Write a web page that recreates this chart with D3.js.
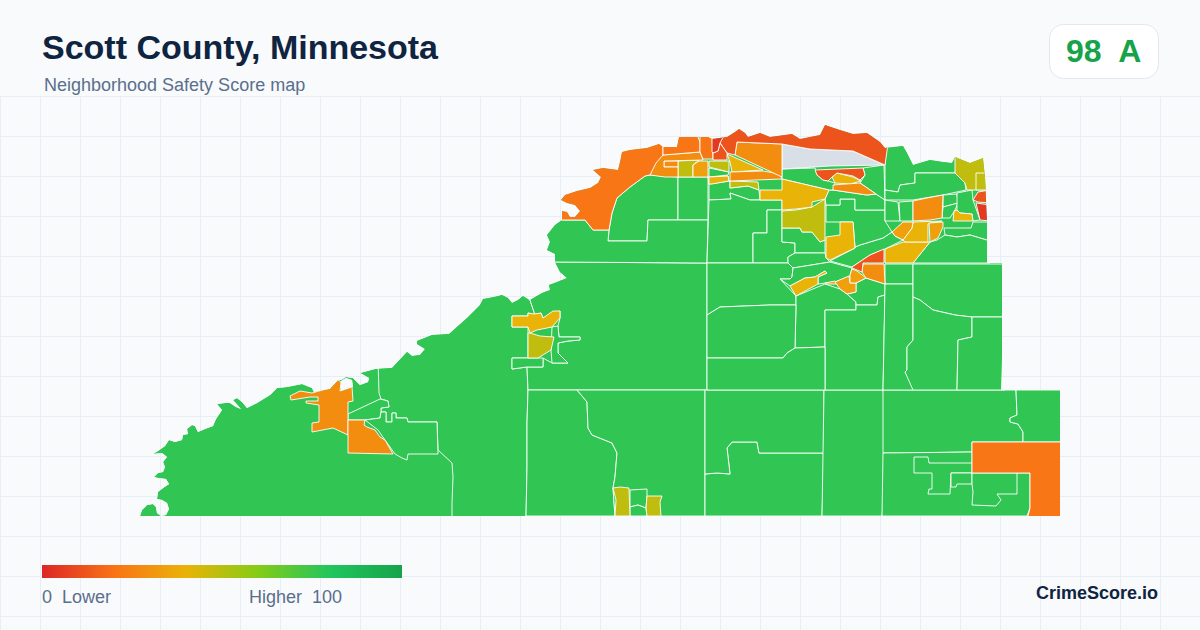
<!DOCTYPE html>
<html>
<head>
<meta charset="utf-8">
<script src="https://cdn.jsdelivr.net/npm/d3@7/dist/d3.min.js"></script>
<style>
html, body { margin: 0; padding: 0; background: #f8fafc; }
svg { display: block; font-family: "Liberation Sans", Arial, sans-serif; }
</style>
</head>
<body>
<script>
(function(){

//chart text
var titleText = "Scott County, Minnesota";
var subtitleText = "Neighborhood Safety Score map";
var badgeScore = 98;
var badgeGrade = "A";
var brandText = "CrimeScore.io";

//legend scale
var legendStops = [0, 20, 40, 60, 80, 100];
var legendColors = ["#dc2626", "#f97316", "#eab308", "#84cc16", "#22c55e", "#16a34a"];
var noDataColor = "#d9dfe6";

//county outline, second ring is the small lake
var countyRings = [
  [[140,516],[142,510],[147,505],[153,504],[156,507],[157,513],[161,516],[166,515],[169,509],[167,503],[162,500],[157,499],[158,492],[163,488],[169,484],[166,479],[158,478],[154,477],[158,473],[163,472],[165,467],[163,462],[167,457],[162,453],[153,454],[158,451],[165,446],[169,440],[175,442],[182,440],[183,435],[188,434],[187,429],[192,425],[195,426],[198,432],[205,429],[213,426],[216,419],[222,410],[217,404],[225,403],[230,403],[236,407],[241,409],[233,400],[237,398],[242,402],[247,408],[257,403],[270,395],[277,388],[287,387],[302,384],[312,388],[314,392],[330,389],[338,380],[341,380],[346,377],[353,378],[360,385],[368,382],[369,378],[360,373],[375,369],[392,368],[407,352],[412,356],[420,355],[425,349],[417,344],[417,341],[432,335],[449,334],[467,318],[480,305],[483,299],[494,297],[502,295],[508,298],[512,303],[518,300],[523,296],[530,300],[542,293],[550,290],[549,285],[557,282],[567,278],[560,272],[555,262],[555,254],[547,250],[550,242],[547,235],[555,225],[562,220],[562,211],[567,212],[570,217],[575,217],[580,211],[575,205],[567,203],[561,200],[565,195],[577,191],[590,188],[598,183],[601,177],[593,170],[603,168],[618,170],[620,162],[622,152],[630,150],[647,148],[659,144],[663,147],[677,147],[679,137],[693,137],[708,137],[712,139],[727,137],[735,132],[739,129],[745,133],[748,137],[760,133],[770,137],[792,134],[800,139],[820,135],[825,125],[840,130],[853,134],[867,133],[880,142],[885,148],[903,146],[907,153],[913,165],[930,160],[943,162],[952,163],[955,157],[970,163],[983,158],[985,177],[987,222],[987,263],[1002,263],[1002,353],[1001,390],[1060,390],[1060,516],[140,516]],
  [[341,381],[346,378],[352,380],[353,387],[344,390],[341,390],[341,381]]
];

//tract classes: one score per class, rings of that class in the matching slot
var tractScores = [77, null, 48, 40, 34, 28, 21, 12, 5];
var tractRings = [
  //77 - the green tracts
  [
    [[378,360],[379,393],[381,399],[388,401],[389,407],[381,408],[381,412],[386,412],[386,422],[392,422],[392,413],[396,413],[396,418],[407,418],[408,422],[437,422],[438,450],[452,463],[453,477],[452,503],[452,520],[526,520],[527,468],[527,423],[528,390],[527,367],[512,369],[512,358],[528,358],[528,327],[512,327],[512,316],[528,316],[528,313],[535,315],[530,300],[500,280],[378,340]],
    [[348,414],[380,399],[388,401],[389,407],[381,408],[381,412],[380,418],[365,420],[348,420]],
    [[365,420],[380,418],[381,412],[386,412],[386,422],[392,422],[392,413],[396,413],[396,418],[407,418],[408,422],[437,422],[438,454],[408,454],[407,460],[402,458],[395,454],[385,440],[378,430]],
    [[554,262],[693,263],[707,263],[707,390],[528,390],[527,367],[543,367],[543,358],[552,363],[568,363],[558,353],[558,343],[568,341],[580,340],[580,337],[559,337],[558,326],[560,318],[560,311],[543,318],[541,313],[535,315],[530,300]],
    [[552,327],[558,326],[559,337],[580,337],[580,340],[568,341],[558,343],[558,353],[568,363],[552,363],[551,350]],
    [[512,358],[543,358],[543,367],[527,367],[512,369]],
    [[528,390],[577,390],[587,402],[588,428],[592,435],[612,443],[617,453],[615,477],[613,488],[615,516],[526,516],[527,468],[527,423]],
    [[577,390],[705,390],[705,516],[615,516],[613,488],[615,477],[617,453],[612,443],[592,435],[588,428],[587,402]],
    [[630,490],[647,489],[647,496],[646,508],[638,505],[630,507]],
    [[630,507],[638,505],[646,508],[647,516],[630,516]],
    [[705,474],[717,473],[730,474],[727,448],[732,442],[757,442],[759,453],[824,453],[822,516],[705,516]],
    [[705,390],[824,390],[824,453],[759,453],[757,442],[732,442],[727,448],[730,474],[717,473],[705,474]],
    [[824,390],[883,390],[885,405],[884,448],[885,482],[882,516],[822,516]],
    [[883,390],[1016,390],[1017,415],[1010,418],[1010,422],[1018,424],[1023,432],[1023,442],[972,442],[972,452],[898,453],[883,453]],
    [[1016,390],[1065,390],[1065,442],[1023,442],[1023,432],[1018,424],[1010,422],[1010,418],[1017,415]],
    [[883,453],[972,452],[972,473],[1030,473],[1030,508],[1027,516],[882,516]],
    [[914,457],[928,457],[929,463],[972,463],[972,473],[951,473],[950,494],[928,494],[929,489],[932,489],[932,473],[914,473]],
    [[951,473],[972,473],[972,484],[957,484],[956,487],[951,487]],
    [[972,473],[1017,473],[1017,494],[997,494],[1001,500],[996,506],[972,505],[973,492],[972,484]],
    [[645,176],[650,175],[678,177],[678,220],[648,220],[647,241],[608,241],[609,230],[612,213],[617,198],[630,187]],
    [[678,177],[708,177],[708,220],[678,220]],
    [[562,220],[585,220],[593,230],[609,230],[608,241],[647,241],[648,220],[708,220],[707,263],[555,262],[530,262],[530,215],[562,215]],
    [[708,177],[728,176],[729,181],[709,184]],
    [[709,168],[729,172],[728,175],[709,177]],
    [[709,184],[730,181],[730,188],[748,186],[759,190],[760,200],[750,200],[730,193],[731,199],[709,200]],
    [[709,200],[731,199],[730,193],[750,200],[782,200],[782,210],[767,210],[767,233],[753,233],[753,263],[707,263]],
    [[767,210],[782,210],[782,242],[795,243],[795,253],[788,257],[788,263],[753,263],[753,233],[767,233]],
    [[782,228],[800,228],[802,232],[812,232],[820,242],[825,240],[825,253],[795,253],[795,243],[782,242]],
    [[788,257],[795,253],[825,253],[826,258],[830,262],[793,268],[788,263]],
    [[707,263],[788,263],[793,268],[792,277],[790,279],[780,279],[796,296],[796,305],[770,305],[720,307],[707,315]],
    [[830,262],[852,268],[850,276],[835,282],[825,283],[818,284],[818,277],[827,273],[825,271],[815,277],[805,278],[790,286],[780,279],[790,279],[792,277],[793,268]],
    [[796,296],[825,284],[840,289],[847,294],[856,302],[856,310],[825,310],[825,347],[795,348],[796,305]],
    [[847,294],[856,292],[856,283],[866,278],[885,284],[885,295],[878,297],[877,305],[856,305],[856,302]],
    [[825,310],[856,310],[856,305],[877,305],[878,297],[885,295],[883,390],[825,390]],
    [[707,315],[720,307],[770,305],[796,305],[795,348],[787,353],[783,358],[707,358]],
    [[707,358],[783,358],[787,353],[795,348],[825,347],[825,390],[707,390]],
    [[885,264],[913,264],[913,284],[885,284]],
    [[885,284],[913,284],[913,340],[907,347],[907,370],[905,372],[913,383],[913,390],[883,390]],
    [[913,264],[1005,264],[1005,317],[972,317],[955,315],[933,310],[920,300],[913,297]],
    [[913,297],[920,300],[933,310],[955,315],[972,317],[972,337],[958,340],[957,390],[913,390],[905,372],[907,370],[907,347],[913,340]],
    [[972,317],[1005,317],[1005,390],[957,390],[958,340],[972,337]],
    [[855,247],[860,245],[883,238],[892,232],[895,236],[903,240],[885,249],[870,255],[852,267],[830,261],[855,248]],
    [[826,205],[840,205],[840,199],[855,199],[855,210],[885,210],[885,221],[892,232],[883,238],[860,245],[855,247],[853,222],[840,222],[826,222]],
    [[826,205],[840,205],[840,199],[855,199],[855,210],[885,210],[885,200],[876,194],[867,195],[833,190],[829,190],[825,199]],
    [[782,169],[815,168],[817,175],[823,180],[828,181],[835,183],[833,190],[829,190],[782,179]],
    [[884,165],[885,200],[876,194],[860,183],[865,175],[863,168]],
    [[885,140],[960,140],[955,173],[915,173],[915,183],[900,185],[898,192],[885,190]],
    [[885,190],[898,192],[900,185],[915,183],[915,173],[955,173],[965,183],[966,190],[943,195],[913,200],[885,200]],
    [[885,200],[898,202],[900,221],[885,221]],
    [[899,202],[913,201],[913,221],[900,221]],
    [[943,195],[957,194],[958,203],[943,207]],
    [[943,207],[958,203],[955,210],[950,218],[942,218]],
    [[957,193],[972,190],[973,200],[980,220],[973,221],[972,214],[960,213],[957,210]],
    [[944,228],[971,228],[973,222],[990,222],[990,241],[970,235],[957,237],[945,235]],
    [[937,240],[945,235],[957,237],[970,235],[990,241],[990,263],[913,263],[930,242]]
  ],
  //no score - grey tract
  [
    [[782,144],[810,149],[853,151],[884,165],[830,166],[782,169]]
  ],
  //48 - olive
  [
    [[528,333],[530,333],[540,336],[554,337],[551,350],[538,358],[528,358]],
    [[613,488],[620,487],[629,488],[630,516],[615,516],[616,500]],
    [[647,496],[662,496],[660,502],[661,516],[647,516],[646,508]],
    [[678,161],[699,160],[693,165],[693,177],[678,177]],
    [[709,161],[729,161],[729,172],[709,167]],
    [[730,181],[758,182],[759,190],[748,186],[730,188]],
    [[782,211],[796,210],[812,207],[825,199],[825,240],[820,242],[812,232],[802,232],[800,228],[782,228]],
    [[955,150],[970,155],[990,150],[990,190],[967,190],[965,183],[955,173]],
    [[976,173],[990,173],[990,190],[976,190]]
  ],
  //40 - yellow
  [
    [[512,316],[528,316],[528,313],[534,314],[541,313],[543,318],[553,311],[560,311],[560,318],[552,327],[537,330],[530,333],[528,327],[512,327]],
    [[709,177],[728,176],[729,181],[712,184],[709,184]],
    [[727,154],[763,170],[732,172],[730,162]],
    [[782,179],[829,190],[825,199],[812,202],[812,207],[796,209],[782,210],[782,200],[760,200],[760,190],[782,190]],
    [[840,222],[853,222],[855,248],[830,260],[826,258],[826,237],[840,235]],
    [[790,286],[805,278],[815,277],[825,271],[827,273],[818,277],[818,284],[796,296]],
    [[832,177],[837,173],[853,177],[861,181],[850,184],[835,183]],
    [[954,211],[957,210],[960,213],[972,214],[973,221],[953,221]],
    [[885,249],[903,242],[930,242],[913,263],[885,263]],
    [[913,222],[942,221],[928,224],[928,242],[905,242],[903,240],[912,228]]
  ],
  //34 - orange yellow
  [
    [[699,161],[708,161],[708,177],[693,177],[693,165]],
    [[825,283],[835,281],[838,284],[826,284]],
    [[835,282],[849,276],[850,283],[856,283],[856,292],[847,294],[840,289]],
    [[850,275],[852,269],[857,271],[866,278],[856,283],[850,283]],
    [[892,232],[903,222],[913,222],[912,228],[903,240],[895,236]],
    [[929,223],[943,222],[943,227],[938,238],[930,242]]
  ],
  //28 - orange
  [
    [[290,396],[300,391],[312,393],[330,388],[338,380],[341,382],[340,391],[352,387],[353,401],[348,402],[348,435],[333,428],[312,432],[312,423],[319,422],[319,405],[306,403],[306,401],[318,401],[318,397],[310,397],[291,400]],
    [[348,420],[365,420],[364,425],[367,427],[375,430],[380,437],[385,440],[393,454],[348,453]],
    [[664,161],[678,161],[678,167],[664,167]],
    [[655,163],[663,155],[700,152],[703,160],[664,161],[664,167],[678,167],[678,177],[665,177],[650,175]],
    [[730,172],[763,171],[780,174],[782,179],[730,181]],
    [[735,155],[737,142],[782,144],[782,177]],
    [[833,185],[860,183],[876,194],[867,195],[833,190]],
    [[913,201],[927,198],[943,195],[942,218],[930,220],[913,221]],
    [[863,264],[884,264],[885,284],[866,278],[862,272]]
  ],
  //21 - deep orange
  [
    [[562,220],[585,220],[593,230],[609,230],[612,213],[617,198],[630,187],[645,176],[650,175],[656,163],[663,155],[663,130],[640,135],[550,185],[550,220]],
    [[663,155],[663,130],[679,130],[695,130],[700,142],[700,152]],
    [[700,142],[700,130],[712,130],[713,159],[703,159],[700,152]],
    [[972,442],[1065,442],[1065,520],[1027,520],[1030,508],[1030,473],[972,473]]
  ],
  //12 - red orange
  [
    [[720,143],[725,125],[800,120],[890,130],[885,165],[853,151],[810,149],[782,144],[737,142],[735,155],[727,153]],
    [[720,143],[727,153],[727,160],[713,160],[713,153],[718,151]],
    [[815,170],[863,168],[865,175],[860,180],[853,176],[837,173],[832,177],[828,181],[823,180],[817,175]],
    [[852,267],[870,255],[884,249],[884,263],[863,263],[862,272],[852,268]],
    [[973,200],[978,192],[990,190],[990,203],[978,202]]
  ],
  //5 - red
  [
    [[712,130],[727,130],[720,143],[718,151],[713,153],[712,152]],
    [[976,203],[990,205],[990,221],[980,220]]
  ]
];

//begin script when window loads
window.onload = setMap();

function setMap(){

    //frame dimensions
    var width = 1200,
        height = 630;

    var svg = d3.select("body")
        .append("svg")
        .attr("width", width)
        .attr("height", height);

    svg.append("rect")
        .attr("width", width)
        .attr("height", height)
        .attr("fill", "#f8fafc");

    setGrid(svg, width, height);

    //color scale shared by the map and the legend
    var colorScale = d3.scaleLinear()
        .domain(legendStops)
        .range(legendColors);

    //identity projection fitted to the county outline
    var county = {type: "Feature", geometry: {type: "Polygon", coordinates: countyRings}};
    var projection = d3.geoIdentity()
        .fitExtent([[140, 125], [1060, 516]], county);
    var path = d3.geoPath()
        .projection(projection);

    //tract rings overshoot the coast a little, so clip them to the county
    svg.append("clipPath")
        .attr("id", "countyClip")
        .append("path")
        .datum(county)
        .attr("clip-rule", "evenodd")
        .attr("d", path);

    var map = svg.append("g")
        .attr("class", "map")
        .attr("clip-path", "url(#countyClip)");

    map.append("path")
        .datum(county)
        .attr("class", "county")
        .attr("fill-rule", "evenodd")
        .attr("fill", colorScale(tractScores[0]))
        .attr("d", path);

    //flatten the classes to one list of tracts, in drawing order
    var tracts = [];
    tractRings.forEach(function(rings, i){
        rings.forEach(function(ring){
            tracts.push({
                type: "Feature",
                properties: {score: tractScores[i]},
                geometry: {type: "Polygon", coordinates: [ring.concat([ring[0]])]}
            });
        });
    });

    map.selectAll(".tract")
        .data(tracts)
        .enter()
        .append("path")
        .attr("class", "tract")
        .attr("d", path)
        .attr("fill", function(d){
            return d.properties.score === null ? noDataColor : colorScale(d.properties.score);
        })
        .attr("stroke", "#ffffff")
        .attr("stroke-width", 0.9)
        .attr("stroke-linejoin", "round");

    setHeader(svg);
    setLegend(svg);
};

function setGrid(svg, width, height){
    var grid = svg.append("g")
        .attr("stroke", "#e8eef5")
        .attr("stroke-width", 1);

    grid.selectAll(".gridV")
        .data(d3.range(0, width + 1, 40))
        .enter()
        .append("line")
        .attr("x1", function(d){ return d + 0.5; })
        .attr("x2", function(d){ return d + 0.5; })
        .attr("y1", 97)
        .attr("y2", height);

    grid.selectAll(".gridH")
        .data(d3.range(97, height, 40))
        .enter()
        .append("line")
        .attr("x1", 0)
        .attr("x2", width)
        .attr("y1", function(d){ return d - 0.5; })
        .attr("y2", function(d){ return d - 0.5; });
};

function setHeader(svg){
    svg.append("text")
        .attr("x", 42)
        .attr("y", 59)
        .attr("font-size", 34)
        .attr("font-weight", 700)
        .attr("fill", "#0f2440")
        .text(titleText);

    svg.append("text")
        .attr("x", 44)
        .attr("y", 91)
        .attr("font-size", 18)
        .attr("fill", "#5a6f8c")
        .text(subtitleText);

    svg.append("rect")
        .attr("x", 1049.5)
        .attr("y", 24.5)
        .attr("width", 109)
        .attr("height", 54)
        .attr("rx", 14)
        .attr("fill", "#ffffff")
        .attr("stroke", "#e2e8f0");

    svg.append("text")
        .attr("x", 1066)
        .attr("y", 62)
        .attr("font-size", 32)
        .attr("font-weight", 700)
        .attr("fill", "#16a34a")
        .style("white-space", "pre")
        .text(badgeScore + "  " + badgeGrade);

    svg.append("text")
        .attr("x", 1158)
        .attr("y", 599)
        .attr("text-anchor", "end")
        .attr("font-size", 18)
        .attr("font-weight", 700)
        .attr("fill", "#0f2440")
        .text(brandText);
};

function setLegend(svg){
    var legendScale = d3.scaleLinear()
        .domain([0, 100])
        .range([42, 402]);

    var gradient = svg.append("linearGradient")
        .attr("id", "legendGradient");

    gradient.selectAll("stop")
        .data(legendStops)
        .enter()
        .append("stop")
        .attr("offset", function(d){ return d + "%"; })
        .attr("stop-color", function(d, i){ return legendColors[i]; });

    svg.append("rect")
        .attr("x", legendScale(0))
        .attr("y", 565)
        .attr("width", legendScale(100) - legendScale(0))
        .attr("height", 13)
        .attr("fill", "url(#legendGradient)");

    svg.append("text")
        .attr("x", legendScale(0))
        .attr("y", 603)
        .attr("font-size", 18)
        .attr("fill", "#5a6f8c")
        .style("white-space", "pre")
        .text(legendStops[0] + "  Lower");

    svg.append("text")
        .attr("x", 342)
        .attr("y", 603)
        .attr("text-anchor", "end")
        .attr("font-size", 18)
        .attr("fill", "#5a6f8c")
        .style("white-space", "pre")
        .text("Higher  " + legendStops[5]);
};
})();
</script>
</body>
</html>
